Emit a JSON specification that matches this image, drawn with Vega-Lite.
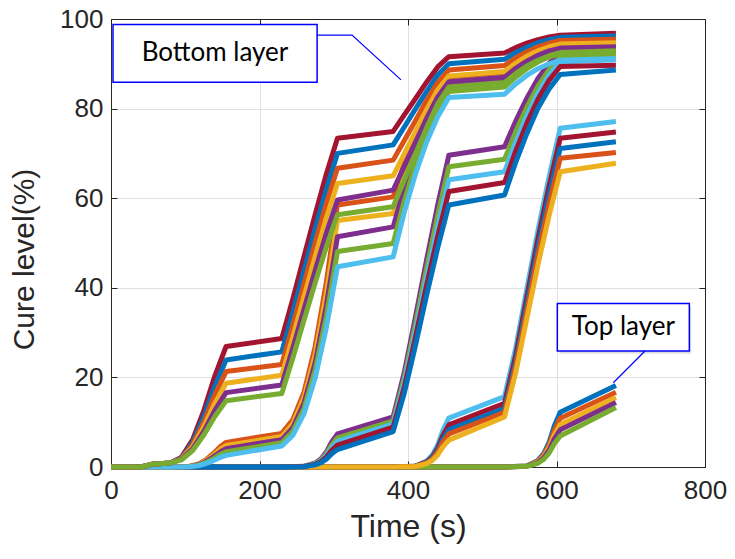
{
"$schema":"https://vega.github.io/schema/vega-lite/v6.json",
"width":594,"height":448,
"autosize":{"type":"none"},
"padding":{"left":111,"top":19,"right":30,"bottom":92},
"background":"white",
"view":{"stroke":"#262626","strokeWidth":1},
"config":{"axis":{"labelFont":"Liberation Sans, Arial, sans-serif","titleFont":"Liberation Sans, Arial, sans-serif","labelColor":"#262626","titleColor":"#262626","domainColor":"#262626","tickColor":"#262626","gridColor":"#E0E0E0","titleFontWeight":"normal","labelFontSize":26,"titleFontSize":30,"labelFlush":false}},
"datasets":{
"curves":[
{"c":"c00","t":0,"v":0},{"c":"c00","t":530,"v":0},{"c":"c00","t":560,"v":0.24},{"c":"c00","t":575,"v":1.46},{"c":"c00","t":583,"v":3.05},{"c":"c00","t":590,"v":5.49},{"c":"c00","t":597,"v":9.15},{"c":"c00","t":605,"v":12.2},{"c":"c00","t":680,"v":18.2},
{"c":"c01","t":0,"v":0},{"c":"c01","t":530,"v":0},{"c":"c01","t":560,"v":0.22},{"c":"c01","t":575,"v":1.31},{"c":"c01","t":583,"v":2.73},{"c":"c01","t":590,"v":4.91},{"c":"c01","t":597,"v":8.18},{"c":"c01","t":605,"v":10.9},{"c":"c01","t":680,"v":16.7},
{"c":"c02","t":0,"v":0},{"c":"c02","t":530,"v":0},{"c":"c02","t":560,"v":0.19},{"c":"c02","t":575,"v":1.14},{"c":"c02","t":583,"v":2.38},{"c":"c02","t":590,"v":4.28},{"c":"c02","t":597,"v":7.13},{"c":"c02","t":605,"v":9.5},{"c":"c02","t":680,"v":15.5},
{"c":"c03","t":0,"v":0},{"c":"c03","t":530,"v":0},{"c":"c03","t":560,"v":0.17},{"c":"c03","t":575,"v":1.0},{"c":"c03","t":583,"v":2.08},{"c":"c03","t":590,"v":3.74},{"c":"c03","t":597,"v":6.23},{"c":"c03","t":605,"v":8.3},{"c":"c03","t":680,"v":14.4},
{"c":"c04","t":0,"v":0},{"c":"c04","t":530,"v":0},{"c":"c04","t":560,"v":0.14},{"c":"c04","t":575,"v":0.83},{"c":"c04","t":583,"v":1.73},{"c":"c04","t":590,"v":3.11},{"c":"c04","t":597,"v":5.18},{"c":"c04","t":605,"v":6.9},{"c":"c04","t":680,"v":13.3},
{"c":"c05","t":0,"v":0},{"c":"c05","t":380,"v":0},{"c":"c05","t":410,"v":0.22},{"c":"c05","t":425,"v":1.31},{"c":"c05","t":433,"v":2.73},{"c":"c05","t":440,"v":4.91},{"c":"c05","t":447,"v":8.18},{"c":"c05","t":455,"v":10.9},{"c":"c05","t":530,"v":15.7},{"c":"c05","t":545,"v":26.5},{"c":"c05","t":560,"v":39.7},{"c":"c05","t":575,"v":52.8},{"c":"c05","t":590,"v":64.8},{"c":"c05","t":605,"v":75.6},{"c":"c05","t":680,"v":77.1},
{"c":"c06","t":0,"v":0},{"c":"c06","t":380,"v":0},{"c":"c06","t":410,"v":0.19},{"c":"c06","t":425,"v":1.13},{"c":"c06","t":433,"v":2.35},{"c":"c06","t":440,"v":4.23},{"c":"c06","t":447,"v":7.05},{"c":"c06","t":455,"v":9.4},{"c":"c06","t":530,"v":14.2},{"c":"c06","t":545,"v":24.9},{"c":"c06","t":560,"v":37.9},{"c":"c06","t":575,"v":50.9},{"c":"c06","t":590,"v":62.7},{"c":"c06","t":605,"v":73.4},{"c":"c06","t":680,"v":74.8},
{"c":"c07","t":0,"v":0},{"c":"c07","t":380,"v":0},{"c":"c07","t":410,"v":0.17},{"c":"c07","t":425,"v":1.0},{"c":"c07","t":433,"v":2.08},{"c":"c07","t":440,"v":3.74},{"c":"c07","t":447,"v":6.23},{"c":"c07","t":455,"v":8.3},{"c":"c07","t":530,"v":13.1},{"c":"c07","t":545,"v":23.5},{"c":"c07","t":560,"v":36.3},{"c":"c07","t":575,"v":49.1},{"c":"c07","t":590,"v":60.7},{"c":"c07","t":605,"v":71.1},{"c":"c07","t":680,"v":72.6},
{"c":"c08","t":0,"v":0},{"c":"c08","t":380,"v":0},{"c":"c08","t":410,"v":0.15},{"c":"c08","t":425,"v":0.89},{"c":"c08","t":433,"v":1.85},{"c":"c08","t":440,"v":3.33},{"c":"c08","t":447,"v":5.55},{"c":"c08","t":455,"v":7.4},{"c":"c08","t":530,"v":12.2},{"c":"c08","t":545,"v":22.4},{"c":"c08","t":560,"v":34.9},{"c":"c08","t":575,"v":47.4},{"c":"c08","t":590,"v":58.7},{"c":"c08","t":605,"v":68.9},{"c":"c08","t":680,"v":70.2},
{"c":"c09","t":0,"v":0},{"c":"c09","t":380,"v":0},{"c":"c09","t":410,"v":0.12},{"c":"c09","t":425,"v":0.72},{"c":"c09","t":433,"v":1.5},{"c":"c09","t":440,"v":2.7},{"c":"c09","t":447,"v":4.5},{"c":"c09","t":455,"v":6.0},{"c":"c09","t":530,"v":11.2},{"c":"c09","t":545,"v":21.0},{"c":"c09","t":560,"v":33.1},{"c":"c09","t":575,"v":45.1},{"c":"c09","t":590,"v":56.1},{"c":"c09","t":605,"v":65.9},{"c":"c09","t":680,"v":67.8},
{"c":"c10","t":0,"v":0},{"c":"c10","t":230,"v":0},{"c":"c10","t":260,"v":0.15},{"c":"c10","t":275,"v":0.89},{"c":"c10","t":283,"v":1.85},{"c":"c10","t":290,"v":3.33},{"c":"c10","t":297,"v":5.55},{"c":"c10","t":305,"v":7.4},{"c":"c10","t":380,"v":11.2},{"c":"c10","t":395,"v":21.1},{"c":"c10","t":410,"v":33.4},{"c":"c10","t":425,"v":46.2},{"c":"c10","t":440,"v":58.5},{"c":"c10","t":455,"v":69.6},{"c":"c10","t":530,"v":71.5},{"c":"c10","t":545,"v":77.2},{"c":"c10","t":560,"v":82.3},{"c":"c10","t":575,"v":86.7},{"c":"c10","t":590,"v":90.1},{"c":"c10","t":605,"v":92.6},{"c":"c10","t":680,"v":93.0},
{"c":"c11","t":0,"v":0},{"c":"c11","t":230,"v":0},{"c":"c11","t":260,"v":0.13},{"c":"c11","t":275,"v":0.78},{"c":"c11","t":283,"v":1.63},{"c":"c11","t":290,"v":2.93},{"c":"c11","t":297,"v":4.88},{"c":"c11","t":305,"v":6.5},{"c":"c11","t":380,"v":10.3},{"c":"c11","t":395,"v":19.9},{"c":"c11","t":410,"v":31.8},{"c":"c11","t":425,"v":44.3},{"c":"c11","t":440,"v":56.2},{"c":"c11","t":455,"v":67.0},{"c":"c11","t":530,"v":68.7},{"c":"c11","t":545,"v":74.8},{"c":"c11","t":560,"v":80.3},{"c":"c11","t":575,"v":85.0},{"c":"c11","t":590,"v":88.7},{"c":"c11","t":605,"v":91.4},{"c":"c11","t":680,"v":92.0},
{"c":"c12","t":0,"v":0},{"c":"c12","t":230,"v":0},{"c":"c12","t":260,"v":0.11},{"c":"c12","t":275,"v":0.68},{"c":"c12","t":283,"v":1.43},{"c":"c12","t":290,"v":2.57},{"c":"c12","t":297,"v":4.28},{"c":"c12","t":305,"v":5.7},{"c":"c12","t":380,"v":9.6},{"c":"c12","t":395,"v":18.9},{"c":"c12","t":410,"v":30.3},{"c":"c12","t":425,"v":42.3},{"c":"c12","t":440,"v":53.7},{"c":"c12","t":455,"v":64.1},{"c":"c12","t":530,"v":65.9},{"c":"c12","t":545,"v":72.5},{"c":"c12","t":560,"v":78.4},{"c":"c12","t":575,"v":83.5},{"c":"c12","t":590,"v":87.5},{"c":"c12","t":605,"v":90.4},{"c":"c12","t":680,"v":90.9},
{"c":"c13","t":0,"v":0},{"c":"c13","t":230,"v":0},{"c":"c13","t":260,"v":0.1},{"c":"c13","t":275,"v":0.59},{"c":"c13","t":283,"v":1.23},{"c":"c13","t":290,"v":2.21},{"c":"c13","t":297,"v":3.68},{"c":"c13","t":305,"v":4.9},{"c":"c13","t":380,"v":8.9},{"c":"c13","t":395,"v":17.8},{"c":"c13","t":410,"v":28.9},{"c":"c13","t":425,"v":40.5},{"c":"c13","t":440,"v":51.5},{"c":"c13","t":455,"v":61.5},{"c":"c13","t":530,"v":63.5},{"c":"c13","t":545,"v":70.5},{"c":"c13","t":560,"v":76.7},{"c":"c13","t":575,"v":82.1},{"c":"c13","t":590,"v":86.3},{"c":"c13","t":605,"v":89.4},{"c":"c13","t":680,"v":89.7},
{"c":"c14","t":0,"v":0},{"c":"c14","t":230,"v":0},{"c":"c14","t":260,"v":0.08},{"c":"c14","t":275,"v":0.47},{"c":"c14","t":283,"v":0.98},{"c":"c14","t":290,"v":1.76},{"c":"c14","t":297,"v":2.93},{"c":"c14","t":305,"v":3.9},{"c":"c14","t":380,"v":7.9},{"c":"c14","t":395,"v":16.5},{"c":"c14","t":410,"v":27.1},{"c":"c14","t":425,"v":38.3},{"c":"c14","t":440,"v":48.9},{"c":"c14","t":455,"v":58.5},{"c":"c14","t":530,"v":60.7},{"c":"c14","t":545,"v":68.0},{"c":"c14","t":560,"v":74.4},{"c":"c14","t":575,"v":80.1},{"c":"c14","t":590,"v":84.4},{"c":"c14","t":605,"v":87.6},{"c":"c14","t":680,"v":88.6},
{"c":"c15","t":0,"v":0},{"c":"c15","t":80,"v":0},{"c":"c15","t":105,"v":0.11},{"c":"c15","t":118,"v":0.66},{"c":"c15","t":128,"v":1.65},{"c":"c15","t":138,"v":3.03},{"c":"c15","t":147,"v":4.51},{"c":"c15","t":155,"v":5.5},{"c":"c15","t":230,"v":7.5},{"c":"c15","t":245,"v":10.6},{"c":"c15","t":260,"v":16.7},{"c":"c15","t":275,"v":26.9},{"c":"c15","t":290,"v":41.2},{"c":"c15","t":305,"v":58.5},{"c":"c15","t":380,"v":60.3},{"c":"c15","t":395,"v":67.8},{"c":"c15","t":410,"v":74.2},{"c":"c15","t":425,"v":79.5},{"c":"c15","t":440,"v":83.8},{"c":"c15","t":455,"v":87.0},{"c":"c15","t":530,"v":88.0},{"c":"c15","t":545,"v":90.1},{"c":"c15","t":560,"v":91.9},{"c":"c15","t":575,"v":93.3},{"c":"c15","t":590,"v":94.4},{"c":"c15","t":605,"v":95.1},{"c":"c15","t":680,"v":95.4},
{"c":"c16","t":0,"v":0},{"c":"c16","t":80,"v":0},{"c":"c16","t":105,"v":0.1},{"c":"c16","t":118,"v":0.58},{"c":"c16","t":128,"v":1.44},{"c":"c16","t":138,"v":2.64},{"c":"c16","t":147,"v":3.94},{"c":"c16","t":155,"v":4.8},{"c":"c16","t":230,"v":6.8},{"c":"c16","t":245,"v":9.7},{"c":"c16","t":260,"v":15.5},{"c":"c16","t":275,"v":25.1},{"c":"c16","t":290,"v":38.6},{"c":"c16","t":305,"v":55.0},{"c":"c16","t":380,"v":56.6},{"c":"c16","t":395,"v":64.8},{"c":"c16","t":410,"v":71.9},{"c":"c16","t":425,"v":77.8},{"c":"c16","t":440,"v":82.5},{"c":"c16","t":455,"v":86.0},{"c":"c16","t":530,"v":87.0},{"c":"c16","t":545,"v":89.2},{"c":"c16","t":560,"v":91.0},{"c":"c16","t":575,"v":92.5},{"c":"c16","t":590,"v":93.6},{"c":"c16","t":605,"v":94.3},{"c":"c16","t":680,"v":94.6},
{"c":"c17","t":0,"v":0},{"c":"c17","t":80,"v":0},{"c":"c17","t":105,"v":0.08},{"c":"c17","t":118,"v":0.49},{"c":"c17","t":128,"v":1.23},{"c":"c17","t":138,"v":2.26},{"c":"c17","t":147,"v":3.36},{"c":"c17","t":155,"v":4.1},{"c":"c17","t":230,"v":6.1},{"c":"c17","t":245,"v":8.8},{"c":"c17","t":260,"v":14.3},{"c":"c17","t":275,"v":23.3},{"c":"c17","t":290,"v":36.0},{"c":"c17","t":305,"v":51.4},{"c":"c17","t":380,"v":53.6},{"c":"c17","t":395,"v":62.4},{"c":"c17","t":410,"v":69.9},{"c":"c17","t":425,"v":76.2},{"c":"c17","t":440,"v":81.2},{"c":"c17","t":455,"v":85.0},{"c":"c17","t":530,"v":86.0},{"c":"c17","t":545,"v":88.2},{"c":"c17","t":560,"v":90.0},{"c":"c17","t":575,"v":91.5},{"c":"c17","t":590,"v":92.6},{"c":"c17","t":605,"v":93.3},{"c":"c17","t":680,"v":93.6},
{"c":"c18","t":0,"v":0},{"c":"c18","t":80,"v":0},{"c":"c18","t":105,"v":0.07},{"c":"c18","t":118,"v":0.41},{"c":"c18","t":128,"v":1.02},{"c":"c18","t":138,"v":1.87},{"c":"c18","t":147,"v":2.79},{"c":"c18","t":155,"v":3.4},{"c":"c18","t":230,"v":5.4},{"c":"c18","t":245,"v":8.0},{"c":"c18","t":260,"v":13.1},{"c":"c18","t":275,"v":21.6},{"c":"c18","t":290,"v":33.6},{"c":"c18","t":305,"v":48.1},{"c":"c18","t":380,"v":49.9},{"c":"c18","t":395,"v":59.4},{"c":"c18","t":410,"v":67.5},{"c":"c18","t":425,"v":74.3},{"c":"c18","t":440,"v":79.7},{"c":"c18","t":455,"v":83.8},{"c":"c18","t":530,"v":84.8},{"c":"c18","t":545,"v":87.0},{"c":"c18","t":560,"v":88.9},{"c":"c18","t":575,"v":90.4},{"c":"c18","t":590,"v":91.5},{"c":"c18","t":605,"v":92.2},{"c":"c18","t":680,"v":92.5},
{"c":"c19","t":0,"v":0},{"c":"c19","t":80,"v":0},{"c":"c19","t":105,"v":0.05},{"c":"c19","t":118,"v":0.31},{"c":"c19","t":128,"v":0.78},{"c":"c19","t":138,"v":1.43},{"c":"c19","t":147,"v":2.13},{"c":"c19","t":155,"v":2.6},{"c":"c19","t":230,"v":4.7},{"c":"c19","t":245,"v":7.1},{"c":"c19","t":260,"v":11.9},{"c":"c19","t":275,"v":19.9},{"c":"c19","t":290,"v":31.1},{"c":"c19","t":305,"v":44.7},{"c":"c19","t":380,"v":46.9},{"c":"c19","t":395,"v":56.9},{"c":"c19","t":410,"v":65.4},{"c":"c19","t":425,"v":72.5},{"c":"c19","t":440,"v":78.2},{"c":"c19","t":455,"v":82.5},{"c":"c19","t":530,"v":83.2},{"c":"c19","t":545,"v":85.5},{"c":"c19","t":560,"v":87.4},{"c":"c19","t":575,"v":88.9},{"c":"c19","t":590,"v":90.0},{"c":"c19","t":605,"v":90.8},{"c":"c19","t":680,"v":91.2},
{"c":"c20","t":0,"v":0},{"c":"c20","t":40,"v":0},{"c":"c20","t":55,"v":0.6},{"c":"c20","t":80,"v":0.9},{"c":"c20","t":95,"v":2.2},{"c":"c20","t":110,"v":6.1},{"c":"c20","t":125,"v":12.6},{"c":"c20","t":140,"v":20.4},{"c":"c20","t":155,"v":26.9},{"c":"c20","t":230,"v":28.7},{"c":"c20","t":245,"v":37.6},{"c":"c20","t":260,"v":47.0},{"c":"c20","t":275,"v":56.4},{"c":"c20","t":290,"v":65.4},{"c":"c20","t":305,"v":73.4},{"c":"c20","t":380,"v":74.9},{"c":"c20","t":395,"v":78.6},{"c":"c20","t":410,"v":82.2},{"c":"c20","t":425,"v":85.9},{"c":"c20","t":440,"v":89.3},{"c":"c20","t":455,"v":91.6},{"c":"c20","t":530,"v":92.4},{"c":"c20","t":545,"v":93.6},{"c":"c20","t":560,"v":94.6},{"c":"c20","t":575,"v":95.4},{"c":"c20","t":590,"v":96.0},{"c":"c20","t":605,"v":96.4},{"c":"c20","t":680,"v":96.8},
{"c":"c21","t":0,"v":0},{"c":"c21","t":40,"v":0},{"c":"c21","t":55,"v":0.6},{"c":"c21","t":80,"v":0.9},{"c":"c21","t":95,"v":2.05},{"c":"c21","t":110,"v":5.5},{"c":"c21","t":125,"v":11.25},{"c":"c21","t":140,"v":18.15},{"c":"c21","t":155,"v":23.9},{"c":"c21","t":230,"v":25.7},{"c":"c21","t":245,"v":34.6},{"c":"c21","t":260,"v":43.9},{"c":"c21","t":275,"v":53.2},{"c":"c21","t":290,"v":62.0},{"c":"c21","t":305,"v":70.0},{"c":"c21","t":380,"v":71.9},{"c":"c21","t":395,"v":75.9},{"c":"c21","t":410,"v":79.9},{"c":"c21","t":425,"v":83.8},{"c":"c21","t":440,"v":87.5},{"c":"c21","t":455,"v":90.0},{"c":"c21","t":530,"v":91.0},{"c":"c21","t":545,"v":92.5},{"c":"c21","t":560,"v":93.7},{"c":"c21","t":575,"v":94.7},{"c":"c21","t":590,"v":95.4},{"c":"c21","t":605,"v":95.9},{"c":"c21","t":680,"v":96.2},
{"c":"c22","t":0,"v":0},{"c":"c22","t":40,"v":0},{"c":"c22","t":55,"v":0.6},{"c":"c22","t":80,"v":0.9},{"c":"c22","t":95,"v":1.92},{"c":"c22","t":110,"v":4.98},{"c":"c22","t":125,"v":10.08},{"c":"c22","t":140,"v":16.2},{"c":"c22","t":155,"v":21.3},{"c":"c22","t":230,"v":22.9},{"c":"c22","t":245,"v":31.7},{"c":"c22","t":260,"v":40.9},{"c":"c22","t":275,"v":50.1},{"c":"c22","t":290,"v":58.8},{"c":"c22","t":305,"v":66.7},{"c":"c22","t":380,"v":68.5},{"c":"c22","t":395,"v":72.9},{"c":"c22","t":410,"v":77.3},{"c":"c22","t":425,"v":81.8},{"c":"c22","t":440,"v":85.8},{"c":"c22","t":455,"v":88.6},{"c":"c22","t":530,"v":89.6},{"c":"c22","t":545,"v":91.3},{"c":"c22","t":560,"v":92.7},{"c":"c22","t":575,"v":93.8},{"c":"c22","t":590,"v":94.6},{"c":"c22","t":605,"v":95.2},{"c":"c22","t":680,"v":95.5},
{"c":"c23","t":0,"v":0},{"c":"c23","t":40,"v":0},{"c":"c23","t":55,"v":0.6},{"c":"c23","t":80,"v":0.9},{"c":"c23","t":95,"v":1.79},{"c":"c23","t":110,"v":4.46},{"c":"c23","t":125,"v":8.91},{"c":"c23","t":140,"v":14.25},{"c":"c23","t":155,"v":18.7},{"c":"c23","t":230,"v":20.5},{"c":"c23","t":245,"v":29.1},{"c":"c23","t":260,"v":38.0},{"c":"c23","t":275,"v":47.0},{"c":"c23","t":290,"v":55.6},{"c":"c23","t":305,"v":63.3},{"c":"c23","t":380,"v":65.0},{"c":"c23","t":395,"v":69.9},{"c":"c23","t":410,"v":74.8},{"c":"c23","t":425,"v":79.7},{"c":"c23","t":440,"v":84.2},{"c":"c23","t":455,"v":87.3},{"c":"c23","t":530,"v":88.3},{"c":"c23","t":545,"v":90.1},{"c":"c23","t":560,"v":91.7},{"c":"c23","t":575,"v":92.9},{"c":"c23","t":590,"v":93.8},{"c":"c23","t":605,"v":94.4},{"c":"c23","t":680,"v":94.7},
{"c":"c24","t":0,"v":0},{"c":"c24","t":40,"v":0},{"c":"c24","t":55,"v":0.6},{"c":"c24","t":80,"v":0.9},{"c":"c24","t":95,"v":1.69},{"c":"c24","t":110,"v":4.04},{"c":"c24","t":125,"v":7.97},{"c":"c24","t":140,"v":12.68},{"c":"c24","t":155,"v":16.6},{"c":"c24","t":230,"v":18.3},{"c":"c24","t":245,"v":26.6},{"c":"c24","t":260,"v":35.2},{"c":"c24","t":275,"v":43.9},{"c":"c24","t":290,"v":52.2},{"c":"c24","t":305,"v":59.6},{"c":"c24","t":380,"v":61.8},{"c":"c24","t":395,"v":67.1},{"c":"c24","t":410,"v":72.5},{"c":"c24","t":425,"v":77.8},{"c":"c24","t":440,"v":82.6},{"c":"c24","t":455,"v":86.0},{"c":"c24","t":530,"v":87.0},{"c":"c24","t":545,"v":89.0},{"c":"c24","t":560,"v":90.6},{"c":"c24","t":575,"v":91.9},{"c":"c24","t":590,"v":92.9},{"c":"c24","t":605,"v":93.5},{"c":"c24","t":680,"v":93.8},
{"c":"c25","t":0,"v":0},{"c":"c25","t":40,"v":0},{"c":"c25","t":55,"v":0.6},{"c":"c25","t":80,"v":0.9},{"c":"c25","t":95,"v":1.6},{"c":"c25","t":110,"v":3.68},{"c":"c25","t":125,"v":7.16},{"c":"c25","t":140,"v":11.33},{"c":"c25","t":155,"v":14.8},{"c":"c25","t":230,"v":16.4},{"c":"c25","t":245,"v":24.4},{"c":"c25","t":260,"v":32.8},{"c":"c25","t":275,"v":41.1},{"c":"c25","t":290,"v":49.1},{"c":"c25","t":305,"v":56.3},{"c":"c25","t":380,"v":58.1},{"c":"c25","t":395,"v":64.0},{"c":"c25","t":410,"v":69.9},{"c":"c25","t":425,"v":75.7},{"c":"c25","t":440,"v":81.1},{"c":"c25","t":455,"v":84.8},{"c":"c25","t":530,"v":85.8},{"c":"c25","t":545,"v":87.8},{"c":"c25","t":560,"v":89.5},{"c":"c25","t":575,"v":90.8},{"c":"c25","t":590,"v":91.8},{"c":"c25","t":605,"v":92.5},{"c":"c25","t":680,"v":92.9}
],
"shadow":[{"x1":604,"x2":781.5,"y1":25.3,"y2":35.9}],
"boxes":[{"name":"bottom","x1":2.7,"x2":277.6,"y1":85.9,"y2":98.8},{"name":"top","x1":601.1,"x2":778.9,"y1":25.9,"y2":36.5}],
"arrows":[{"a":"b","i":0,"t":277.6,"v":96.4},{"a":"b","i":1,"t":324.6,"v":96.4},{"a":"b","i":2,"t":390.6,"v":86.4},{"a":"t","i":0,"t":719.2,"v":25.9},{"a":"t","i":1,"t":676.5,"v":18.8}],
"labels":[{"label":"Bottom layer","t":140,"v":92.3},{"label":"Top layer","t":690,"v":31.2}]
},
"layer":[
{"data":{"name":"curves"},
 "mark":{"type":"line","strokeWidth":5,"strokeJoin":"round"},
 "encoding":{
  "x":{"field":"t","type":"quantitative","scale":{"domain":[0,800],"nice":false},"axis":{"title":"Time (s)","values":[0,200,400,600,800],"grid":true,"tickSize":-6,"labelPadding":16,"titlePadding":8,"titleFontSize":32}},
  "y":{"field":"v","type":"quantitative","scale":{"domain":[0,100],"nice":false},"axis":{"title":"Cure level(%)","values":[0,20,40,60,80,100],"grid":true,"tickSize":-6,"labelPadding":14,"titlePadding":20,"titleY":240}},
  "color":{"field":"c","type":"nominal","legend":null,"scale":{"domain":["c00","c01","c02","c03","c04","c05","c06","c07","c08","c09","c10","c11","c12","c13","c14","c15","c16","c17","c18","c19","c20","c21","c22","c23","c24","c25"],"range":["#0072BD","#D95319","#EDB120","#7E2F8E","#77AC30","#4DBEEE","#A2142F","#0072BD","#D95319","#EDB120","#7E2F8E","#77AC30","#4DBEEE","#A2142F","#0072BD","#D95319","#EDB120","#7E2F8E","#77AC30","#4DBEEE","#A2142F","#0072BD","#D95319","#EDB120","#7E2F8E","#77AC30"]}}
 }},
{"data":{"name":"shadow"},
 "mark":{"type":"rect","fill":"#c8c8c8","opacity":0.6},
 "encoding":{"x":{"field":"x1","type":"quantitative","scale":{"domain":[0,800],"nice":false},"axis":null},"x2":{"field":"x2"},"y":{"field":"y1","type":"quantitative","scale":{"domain":[0,100],"nice":false},"axis":null},"y2":{"field":"y2"}}},
{"data":{"name":"boxes"},
 "mark":{"type":"rect","fill":"white","stroke":"#0000FF","strokeWidth":1.5},
 "encoding":{"x":{"field":"x1","type":"quantitative","scale":{"domain":[0,800],"nice":false},"axis":{"orient":"top","labels":false,"title":null,"grid":false,"tickSize":-6,"values":[0,200,400,600,800]}},"x2":{"field":"x2"},"y":{"field":"y1","type":"quantitative","scale":{"domain":[0,100],"nice":false},"axis":{"orient":"right","labels":false,"title":null,"grid":false,"tickSize":-6,"values":[0,20,40,60,80,100]}},"y2":{"field":"y2"}}},
{"data":{"name":"arrows"},
 "mark":{"type":"line","color":"#0000FF","strokeWidth":1.2},
 "encoding":{"x":{"field":"t","type":"quantitative","scale":{"domain":[0,800],"nice":false},"axis":null},"y":{"field":"v","type":"quantitative","scale":{"domain":[0,100],"nice":false},"axis":null},"detail":{"field":"a"},"order":{"field":"i"}}},
{"data":{"name":"labels"},
 "mark":{"type":"text","font":"Lato","fontSize":26,"color":"#000000"},
 "encoding":{"x":{"field":"t","type":"quantitative","scale":{"domain":[0,800],"nice":false},"axis":null},"y":{"field":"v","type":"quantitative","scale":{"domain":[0,100],"nice":false},"axis":null},"text":{"field":"label"}}}
],
"resolve":{"axis":{"x":"independent","y":"independent"}}
}
